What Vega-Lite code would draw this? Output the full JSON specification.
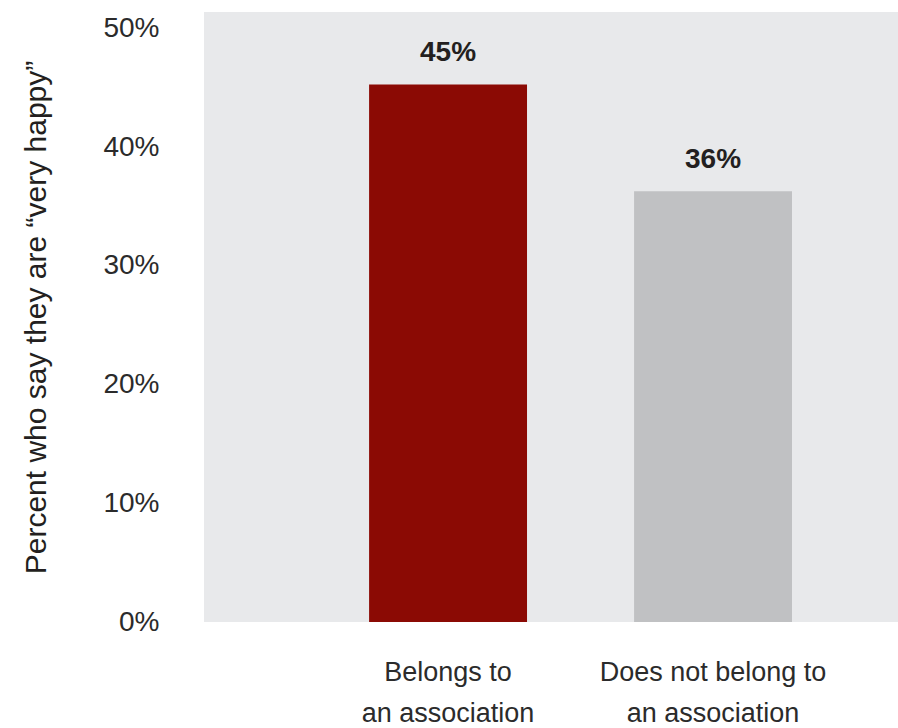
{
  "$schema": "https://vega.github.io/schema/vega-lite/v6.json",
  "autosize": {"type": "none"},
  "padding": {"left": 204, "top": 12, "right": 0, "bottom": 106},
  "width": 694,
  "height": 610,
  "background": "white",
  "config": {
    "view": {"fill": "#E8E9EB", "stroke": null},
    "font": "Liberation Sans"
  },
  "data": {
    "values": [
      {"group": "Belongs to an association", "value": 0.453},
      {"group": "Does not belong to an association", "value": 0.363}
    ]
  },
  "encoding": {
    "x": {
      "field": "group",
      "type": "nominal",
      "sort": null,
      "scale": {"paddingInner": 0.404, "paddingOuter": 0.5115, "align": 0.609},
      "axis": {
        "title": null,
        "domain": false,
        "ticks": false,
        "labelAngle": 0,
        "labelFontSize": 27,
        "labelColor": "#2b2b2b",
        "labelPadding": 50,
        "labelLineHeight": 41,
        "labelBaseline": "middle",
        "labelLimit": 0,
        "labelExpr": "split(replace(datum.label, ' an association', '|an association'), '|')"
      }
    },
    "y": {
      "field": "value",
      "type": "quantitative",
      "scale": {"domain": [0, 0.514], "nice": false, "zero": true},
      "axis": {
        "title": "Percent who say they are “very happy”",
        "titleFontSize": 30,
        "titleFontWeight": "normal",
        "titleColor": "#231f20",
        "titlePadding": 51,
        "values": [0, 0.1, 0.2, 0.3, 0.4, 0.5],
        "format": ".0%",
        "domain": false,
        "ticks": false,
        "grid": false,
        "labelFontSize": 28,
        "labelColor": "#2b2b2b",
        "labelPadding": 45
      }
    }
  },
  "layer": [
    {
      "mark": {"type": "bar"},
      "encoding": {
        "color": {
          "field": "group",
          "type": "nominal",
          "scale": {"range": ["#8B0A04", "#C0C1C3"]},
          "legend": null
        }
      }
    },
    {
      "mark": {"type": "text", "fontSize": 28, "fontWeight": "bold", "color": "#231f20", "baseline": "alphabetic", "dy": -23},
      "encoding": {
        "text": {"field": "value", "type": "quantitative", "format": ".0%"}
      }
    }
  ]
}
